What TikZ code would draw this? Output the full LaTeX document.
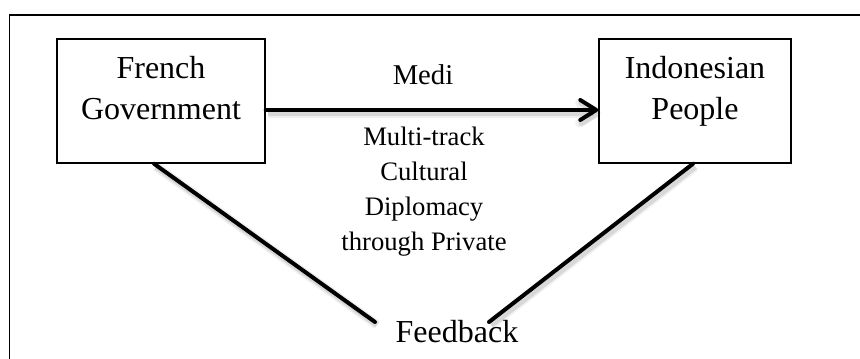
\documentclass[tikz,border=0pt]{standalone}
\usepackage{fontspec}
\setmainfont{Liberation Serif}
\usetikzlibrary{arrows.meta}
\begin{document}
\begin{tikzpicture}[x=0.75pt,y=-0.75pt,
  box/.style={draw, line width=1.1pt, minimum width=#1, minimum height=93pt, inner sep=0pt},
  big/.style={font=\fontsize{24}{30.75}\selectfont, align=center, inner sep=0pt},
  mid/.style={font=\fontsize{20}{26.25}\selectfont, align=center, inner sep=0pt},
  heavy/.style={line width=3pt, line cap=round, line join=round,
    preaction={draw=black, opacity=0.06, line width=7pt, transform canvas={shift={(1.6pt,-2.2pt)}}},
    preaction={draw=black, opacity=0.10, line width=4.5pt, transform canvas={shift={(1.6pt,-2.2pt)}}}},
  barb/.style={-{Straight Barb[length=12pt,width=15pt,line cap=round,line join=round]}}]
\useasboundingbox (0,0) rectangle (860,359);
\clip (0,0) rectangle (860,359);
% frame
\draw[line width=1.1pt] (9.5,380) -- (9.5,15) -- (880,15);
% boxes
\node[box=156pt] (fg) at (161,101) {};
\node[box=144pt] (ip) at (695,101) {};
\node[big] (fgt) at (161,88) {French\\Government};
\node[big] (ipt) at (695,91) {Indonesian\\People};
% labels
\node[mid, font=\fontsize{21.5}{26}\selectfont, anchor=base] (medi) at (423,85) {Medi};
\node[mid] (mct) at (424,191.4) {Multi-track\\Cultural\\Diplomacy\\through Private};
\node[big, anchor=base] (fb) at (457,343) {Feedback};
% free ends of the feedback lines
\coordinate (fbl) at (375,322);
\coordinate (fbr) at (489,322);
% connectors
\draw[heavy, barb] ([yshift=-6.75pt]fg.east) -- ([yshift=-6.75pt]ip.west);
\draw[heavy] ([xshift=-5.25pt]fg.south) -- (fbl);
\draw[heavy] ([xshift=-1.5pt]ip.south) -- (fbr);
\end{tikzpicture}
\end{document}
